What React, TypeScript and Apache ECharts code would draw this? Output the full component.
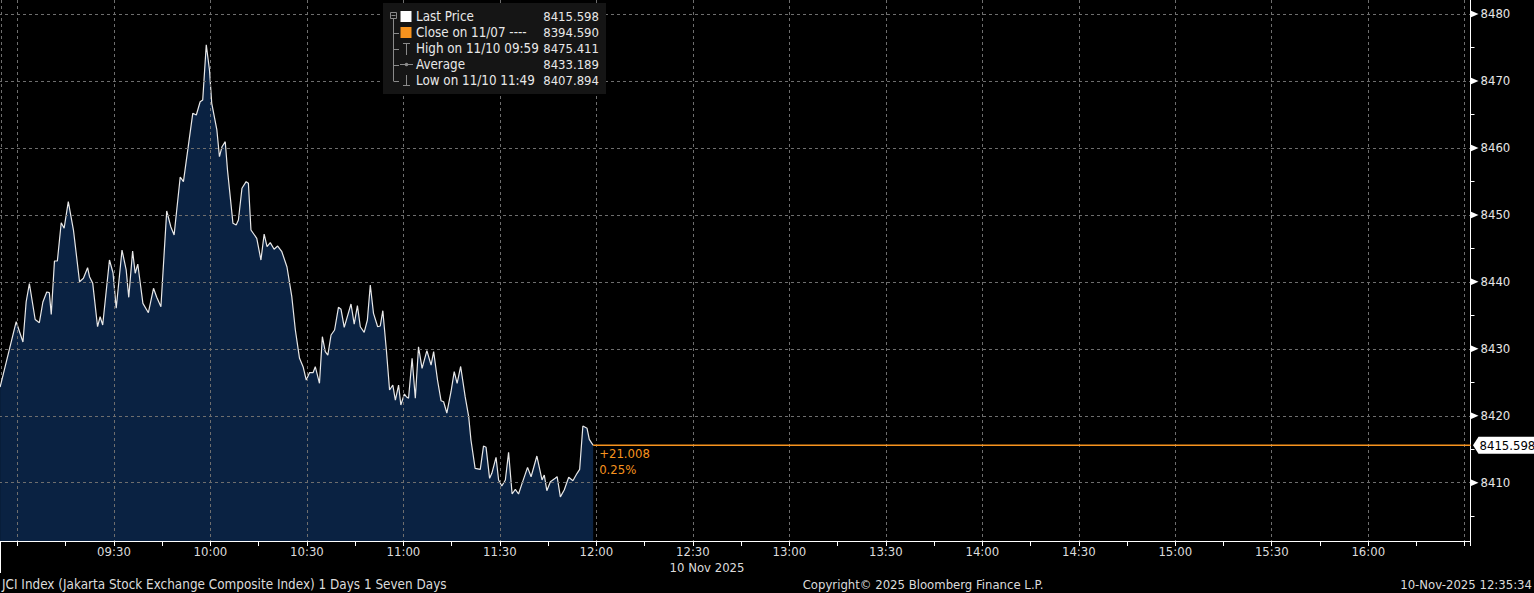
import React, { useEffect, useRef } from "react";
import * as echarts from "echarts";

// Intraday JCI index, minutes after midnight (local time) and index level
const TIMES = [
  534.6, 539.6, 541.7, 542.7, 543.7, 545.5, 546.8, 547.9, 549.1, 549.9, 550.5, 551.5, 552.4, 553.6,
  554.5, 555.8, 557.4, 559.3, 560.5, 561.8, 562.4, 563.4, 564.9, 565.7, 566.5, 568.6, 569.7, 570.7,
  572.5, 573.8, 574.6, 575.8, 576.6, 577.4, 579.0, 580.7, 582.3, 583.3, 584.6, 586.4, 587.7, 588.7,
  590.6, 591.6, 594.5, 595.6, 596.8, 597.6, 598.7, 599.7, 600.4, 602.0, 602.8, 603.6, 604.6, 605.3,
  607.0, 608.0, 608.7, 609.8, 611.1, 611.8, 612.6, 614.4, 615.7, 616.7, 617.6, 618.6, 619.8, 620.9,
  622.2, 623.8, 625.3, 626.4, 627.7, 628.8, 629.8, 630.8, 631.9, 632.6, 633.9, 634.8, 635.7, 636.5,
  637.5, 638.6, 639.8, 640.6, 641.6, 643.7, 644.7, 645.7, 646.6, 647.8, 648.8, 649.7, 650.7, 652.0,
  652.8, 653.6, 654.7, 655.7, 656.7, 657.5, 658.5, 659.2, 660.3, 660.9, 661.6, 662.7, 663.7, 664.7,
  665.8, 667.3, 668.6, 669.4, 670.6, 671.7, 672.5, 673.5, 674.8, 675.8, 676.7, 677.8, 679.2, 680.3,
  681.0, 682.3, 683.9, 684.9, 685.7, 686.8, 687.5, 688.8, 689.6, 690.6, 691.7, 692.7, 693.8, 694.8,
  695.8, 696.9, 698.6, 699.7, 701.5, 703.1, 703.8, 704.6, 705.7, 707.2, 707.8, 708.8, 710.0, 711.4,
  712.7, 714.0, 714.8, 715.8, 717.1, 717.8, 718.6, 719.0,
];

const PRICES = [
  8424.3, 8434.05, 8431.02, 8437.03, 8439.75, 8434.38, 8433.9, 8436.99, 8438.48, 8438.38, 8435.12, 8443.11, 8443.11, 8448.83,
  8448.0, 8451.97, 8447.74, 8440.02, 8440.53, 8442.11, 8440.77, 8439.78, 8433.3, 8434.79, 8433.55, 8443.26, 8441.36, 8436.05,
  8444.75, 8441.77, 8437.69, 8444.61, 8441.28, 8442.66, 8436.79, 8435.39, 8439.04, 8437.69, 8436.29, 8450.58, 8448.19, 8447.0,
  8455.66, 8454.96, 8465.17, 8464.92, 8466.9, 8467.16, 8475.411, 8471.64, 8466.66, 8462.68, 8458.69, 8460.18, 8460.93, 8456.7,
  8448.74, 8448.49, 8449.24, 8453.97, 8454.96, 8454.72, 8447.74, 8446.5, 8443.26, 8447.14, 8445.25, 8445.85, 8444.86, 8445.35,
  8444.5, 8442.22, 8437.78, 8432.81, 8428.58, 8427.33, 8425.34, 8426.43, 8426.43, 8427.33, 8424.85, 8431.81, 8429.57, 8429.07,
  8432.06, 8432.81, 8436.2, 8435.9, 8433.21, 8436.69, 8433.7, 8436.44, 8433.3, 8432.46, 8434.3, 8439.53, 8435.3, 8433.3,
  8433.41, 8435.69, 8429.82, 8423.85, 8424.59, 8422.35, 8424.59, 8421.61, 8423.25, 8422.85, 8422.61, 8428.58, 8422.61, 8430.31,
  8427.09, 8429.72, 8427.58, 8429.57, 8425.34, 8422.25, 8422.1, 8420.41, 8423.59, 8426.58, 8424.85, 8427.36, 8422.85, 8419.86,
  8416.38, 8412.15, 8412.0, 8415.48, 8415.29, 8410.66, 8411.41, 8413.8, 8410.41, 8409.51, 8410.41, 8414.54, 8408.32, 8409.02,
  8408.32, 8409.91, 8412.3, 8410.9, 8413.99, 8410.41, 8411.15, 8408.81, 8410.15, 8410.66, 8410.9, 8407.894, 8408.91, 8410.81,
  8410.3, 8411.41, 8412.0, 8418.47, 8418.13, 8416.48, 8415.89, 8415.598,
];

const Y_TICKS = [8410, 8420, 8430, 8440, 8450, 8460, 8470, 8480];

const PREV_CLOSE = 8394.59;
const PREV_CLOSE_DATE = "11/07";
const HIGH = 8475.411;
const HIGH_LABEL = "11/10 09:59";
const LOW = 8407.894;
const LOW_LABEL = "11/10 11:49";
const AVERAGE = 8433.189;

const X_MIN = 510;
const X_MAX = 991.8;
const Y_MIN = 8401.3;
const Y_MAX = 8482.09;

const FONT = "'DejaVu Sans Condensed', 'DejaVu Sans', sans-serif";
const ORANGE = "#f7931e";
const GRID_COLOR = "#6e6e6e";
const TEXT_COLOR = "#dcdcdc";
const TREE = "#8a8a8a";

const fmtTime = (m: number) => {
  const h = Math.floor(m / 60);
  const mm = Math.round(m % 60);
  return `${String(h).padStart(2, "0")}:${String(mm).padStart(2, "0")}`;
};

export default function App() {
  const ref = useRef<HTMLDivElement>(null);

  useEffect(() => {
    if (!ref.current) return;
    const chart = echarts.init(ref.current, undefined, { renderer: "svg" });
    const last = PRICES[PRICES.length - 1];
    const lastT = TIMES[TIMES.length - 1];
    const change = last - PREV_CLOSE;
    const pct = (change / PREV_CLOSE) * 100;
    const data = TIMES.map((t, i) => [t, PRICES[i]]);

    const legendRows = [
      { label: "Last Price", value: last.toFixed(3) },
      { label: `Close on ${PREV_CLOSE_DATE} ----`, value: PREV_CLOSE.toFixed(3) },
      { label: `High on ${HIGH_LABEL}`, value: HIGH.toFixed(3) },
      { label: "Average", value: AVERAGE.toFixed(3) },
      { label: `Low on ${LOW_LABEL}`, value: LOW.toFixed(3) },
    ];
    const rowY = [16.5, 32.5, 48.8, 64.8, 80.6];
    const Z = 20;
    const legendElements: any[] = [
      { type: "rect", z: Z, shape: { x: 383, y: 3, width: 223, height: 91 }, style: { fill: "#151515" } },
      { type: "rect", z: Z + 1, shape: { x: 390.5, y: 12.5, width: 6, height: 6 }, style: { fill: "none", stroke: TREE, lineWidth: 1 } },
      { type: "line", z: Z + 1, shape: { x1: 391.5, y1: 15.5, x2: 395.5, y2: 15.5 }, style: { stroke: TREE, lineWidth: 1 } },
      { type: "line", z: Z + 1, shape: { x1: 393.5, y1: 18.5, x2: 393.5, y2: 81 }, style: { stroke: TREE, lineWidth: 1 } },
      { type: "rect", z: Z + 1, shape: { x: 400.5, y: 11, width: 11, height: 11 }, style: { fill: "#ffffff" } },
      { type: "rect", z: Z + 1, shape: { x: 400.5, y: 27, width: 11, height: 11 }, style: { fill: ORANGE } },
      // high icon
      { type: "line", z: Z + 1, shape: { x1: 406.5, y1: 43, x2: 406.5, y2: 55 }, style: { stroke: TREE, lineWidth: 1 } },
      { type: "line", z: Z + 1, shape: { x1: 403, y1: 43.5, x2: 410, y2: 43.5 }, style: { stroke: TREE, lineWidth: 1 } },
      // average icon
      { type: "line", z: Z + 1, shape: { x1: 400, y1: 64.5, x2: 413, y2: 64.5 }, style: { stroke: TREE, lineWidth: 1 } },
      { type: "circle", z: Z + 1, shape: { cx: 406.5, cy: 64.5, r: 1.8 }, style: { fill: TREE } },
      // low icon
      { type: "line", z: Z + 1, shape: { x1: 406.5, y1: 75, x2: 406.5, y2: 86 }, style: { stroke: TREE, lineWidth: 1 } },
      { type: "line", z: Z + 1, shape: { x1: 403, y1: 85.5, x2: 410, y2: 85.5 }, style: { stroke: TREE, lineWidth: 1 } },
    ];
    [1, 2, 3, 4].forEach((i) => {
      legendElements.push({
        type: "line",
        z: Z + 1,
        shape: { x1: 393.5, y1: Math.round(rowY[i]) + 0.5, x2: 399, y2: Math.round(rowY[i]) + 0.5 },
        style: { stroke: TREE, lineWidth: 1 },
      });
    });
    legendRows.forEach((r, i) => {
      legendElements.push({
        type: "text",
        z: Z + 1,
        x: 416,
        y: rowY[i],
        style: { text: r.label, fill: "#e8e8e8", font: `13.3px ${FONT}`, verticalAlign: "middle", align: "left" },
      });
      legendElements.push({
        type: "text",
        z: Z + 1,
        x: 599,
        y: rowY[i],
        style: { text: r.value, fill: "#e8e8e8", font: `13px ${FONT}`, verticalAlign: "middle", align: "right" },
      });
    });

    const option: any = {
      animation: false,
      backgroundColor: "#000000",
      grid: { left: -79, right: 63.5, top: 0, bottom: 52, containLabel: false, outerBoundsMode: "none" },
      xAxis: {
        type: "value",
        min: X_MIN,
        max: X_MAX,
        interval: 30,
        z: 3,
        axisLine: { show: true, lineStyle: { color: "#ffffff", width: 1 } },
        axisTick: { show: true, length: 5, lineStyle: { color: "#ffffff" } },
        minorTick: { show: true, splitNumber: 2, length: 5, lineStyle: { color: "#ffffff" } },
        axisLabel: {
          color: TEXT_COLOR,
          fontSize: 13,
          fontFamily: FONT,
          margin: 4,
          showMinLabel: false,
          showMaxLabel: false,
          formatter: (v: number) => (v >= 570 && v <= 960 && v % 30 === 0 ? fmtTime(v) : ""),
        },
        splitLine: { show: true, lineStyle: { color: GRID_COLOR, type: [3, 3], width: 1 } },
      },
      yAxis: {
        type: "value",
        position: "right",
        min: Y_MIN,
        max: Y_MAX,
        splitNumber: 8,
        z: 3,
        axisLine: { show: true, lineStyle: { color: "#ffffff", width: 1 } },
        axisTick: { show: false },
        minorTick: { show: true, splitNumber: 2, length: 4, lineStyle: { color: "#ffffff" } },
        axisLabel: {
          color: "#e6e6e6",
          fontSize: 13,
          fontFamily: FONT,
          margin: 10,
          showMinLabel: false,
          showMaxLabel: false,
          formatter: (v: number) => (Y_TICKS.includes(v) ? String(v) : ""),
        },
        splitLine: {
          show: true,
          showMinLine: false,
          showMaxLine: false,
          lineStyle: { color: GRID_COLOR, type: [3, 3], width: 1 },
        },
      },
      series: [
        {
          type: "line",
          data,
          z: 2,
          symbol: "none",
          lineStyle: { color: "#e8e8e8", width: 1.2 },
          areaStyle: { color: "#0a2242", opacity: 1 },
        },
        {
          type: "line",
          z: 4,
          symbol: "none",
          silent: true,
          lineStyle: { color: ORANGE, width: 1.4, type: "solid" },
          itemStyle: { color: ORANGE },
          data: [
            [lastT, last],
            [X_MAX, last],
          ],
          markPoint: {
            silent: true,
            symbol: "rect",
            symbolSize: 0,
            label: {
              show: true,
              position: "inside",
              align: "left",
              verticalAlign: "top",
              offset: [6, 0],
              formatter: `+${change.toFixed(3)}\n${pct.toFixed(2)}%`,
              color: ORANGE,
              fontSize: 13,
              fontFamily: FONT,
              lineHeight: 16,
            },
            data: [{ coord: [lastT, last] }],
          },
        },
        {
          type: "custom",
          z: 6,
          clip: false,
          silent: true,
          data: Y_TICKS.map((v) => [X_MAX, v]),
          renderItem: (params: any, api: any) => {
            const p = api.coord([api.value(0), api.value(1)]);
            return {
              type: "polygon",
              shape: { points: [[p[0], p[1] - 3.5], [p[0] + 8, p[1]], [p[0], p[1] + 3.5]] },
              style: { fill: "#ffffff" },
            };
          },
        },
        {
          type: "custom",
          z: 7,
          clip: false,
          silent: true,
          data: [[X_MAX, last]],
          renderItem: (params: any, api: any) => {
            const p = api.coord([api.value(0), api.value(1)]);
            return {
              type: "group",
              children: [
                {
                  type: "polygon",
                  shape: {
                    points: [
                      [p[0] + 2.5, p[1]],
                      [p[0] + 8, p[1] - 8.5],
                      [p[0] + 64, p[1] - 8.5],
                      [p[0] + 64, p[1] + 8.5],
                      [p[0] + 8, p[1] + 8.5],
                    ],
                  },
                  style: { fill: "#ffffff" },
                },
                {
                  type: "text",
                  x: p[0] + 9,
                  y: p[1],
                  style: {
                    text: last.toFixed(3),
                    fill: "#000000",
                    font: `13px ${FONT}`,
                    verticalAlign: "middle",
                    align: "left",
                  },
                },
              ],
            };
          },
        },
      ],
      graphic: [
        {
          type: "line",
          z: 1,
          shape: { x1: 1.5, y1: 0, x2: 1.5, y2: 541 },
          style: { stroke: GRID_COLOR, lineDash: [3, 3], lineWidth: 1 },
        },
        {
          type: "line",
          z: 5,
          shape: { x1: 0.5, y1: 541, x2: 0.5, y2: 573 },
          style: { stroke: "#ffffff", lineWidth: 1 },
        },
        { type: "group", z: Z, children: legendElements },
        {
          type: "text",
          z: 10,
          x: 707,
          y: 567,
          style: { text: "10 Nov 2025", fill: TEXT_COLOR, font: `13px ${FONT}`, align: "center", verticalAlign: "middle" },
        },
        {
          type: "text",
          z: 10,
          x: 2,
          y: 584,
          style: {
            text: "JCI Index (Jakarta Stock Exchange Composite Index) 1 Days 1 Seven Days",
            fill: TEXT_COLOR,
            font: `13.4px ${FONT}`,
            align: "left",
            verticalAlign: "middle",
          },
        },
        {
          type: "text",
          z: 10,
          x: 923,
          y: 584,
          style: {
            text: "Copyright\u00a9 2025 Bloomberg Finance L.P.",
            fill: TEXT_COLOR,
            font: `13px ${FONT}`,
            align: "center",
            verticalAlign: "middle",
          },
        },
        {
          type: "text",
          z: 10,
          x: 1532,
          y: 584,
          style: {
            text: "10-Nov-2025 12:35:34",
            fill: TEXT_COLOR,
            font: `13px ${FONT}`,
            align: "right",
            verticalAlign: "middle",
          },
        },
      ],
    };

    chart.setOption(option);
    return () => chart.dispose();
  }, []);

  return (
    <div
      ref={ref}
      style={{ position: "fixed", left: 0, top: 0, width: 1534, height: 593, background: "#000" }}
    />
  );
}
